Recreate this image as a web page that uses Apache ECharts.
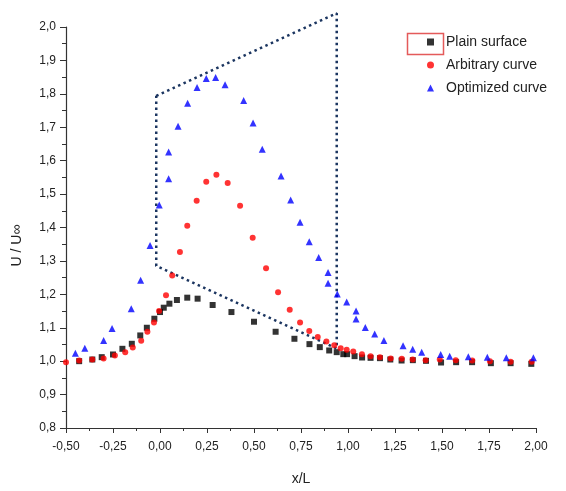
<!DOCTYPE html>
<html><head><meta charset="utf-8">
<script src="https://cdn.jsdelivr.net/npm/echarts@6/dist/echarts.min.js"></script>
<style>html,body{margin:0;padding:0;background:#fff}#c{width:566px;height:491px}</style>
</head><body><div id="c"></div>
<script>
const xTicks = [-0.5,-0.25,0,0.25,0.5,0.75,1.0,1.25,1.5,1.75,2.0];
const plainX = [-0.43,-0.36,-0.31,-0.25,-0.20,-0.15,-0.105,-0.07,-0.03,0.0,0.02,0.05,0.09,0.145,0.20,0.28,0.38,0.50,0.615,0.715,0.795,0.85,0.90,0.94,0.975,0.995,1.035,1.075,1.12,1.17,1.225,1.285,1.345,1.415,1.495,1.575,1.66,1.76,1.865,1.975];
const plainY = [1.0,1.005,1.012,1.02,1.037,1.052,1.077,1.10,1.127,1.147,1.16,1.172,1.183,1.19,1.187,1.168,1.147,1.118,1.088,1.067,1.051,1.042,1.032,1.027,1.021,1.021,1.015,1.011,1.01,1.009,1.005,1.002,1.003,1.001,0.996,0.997,0.997,0.994,0.994,0.992];
const arbX = [-0.50,-0.43,-0.36,-0.30,-0.24,-0.185,-0.145,-0.10,-0.067,-0.032,-0.005,0.032,0.065,0.106,0.145,0.195,0.246,0.30,0.36,0.426,0.493,0.564,0.628,0.69,0.745,0.794,0.839,0.885,0.927,0.961,0.993,1.028,1.074,1.12,1.17,1.227,1.286,1.344,1.413,1.488,1.573,1.661,1.755,1.865,1.977];
const arbY = [0.997,1.002,1.005,1.008,1.017,1.027,1.041,1.061,1.088,1.116,1.15,1.197,1.256,1.327,1.405,1.48,1.537,1.558,1.533,1.465,1.369,1.278,1.206,1.154,1.116,1.09,1.072,1.059,1.048,1.039,1.034,1.029,1.021,1.015,1.012,1.008,1.007,1.005,1.003,1.005,1.003,1.002,1.0,0.998,0.998];
const optX = [-0.45,-0.40,-0.30,-0.255,-0.153,-0.103,-0.053,-0.004,0.046,0.046,0.096,0.147,0.197,0.246,0.296,0.346,0.445,0.495,0.544,0.644,0.695,0.745,0.794,0.844,0.894,0.894,0.943,0.993,1.043,1.043,1.092,1.142,1.191,1.293,1.344,1.392,1.493,1.541,1.64,1.741,1.842,1.986];
const optY = [1.024,1.039,1.062,1.098,1.157,1.242,1.346,1.467,1.546,1.626,1.703,1.772,1.819,1.846,1.849,1.827,1.78,1.713,1.634,1.554,1.482,1.416,1.357,1.31,1.265,1.233,1.201,1.177,1.15,1.126,1.101,1.081,1.062,1.046,1.036,1.027,1.02,1.015,1.013,1.012,1.01,1.01];
const boxX = [-0.02,0.94,0.94,-0.02,-0.02];
const boxY = [1.794,2.041,1.038,1.285,1.794];
const seriesNames = ['Plain surface','Arbitrary curve','Optimized curve'];

const zip = (a,b)=>a.map((v,i)=>[v,b[i]]);
const font = 'Liberation Sans, Arial, sans-serif';
const chart = echarts.init(document.getElementById('c'));
chart.setOption({
  animation:false,
  backgroundColor:'#fff',
  grid:{left:66,right:30,top:27,bottom:58},
  legend:{
    data:[
      {name:seriesNames[0],icon:'rect',itemStyle:{color:'#000'}},
      {name:seriesNames[1],icon:'circle'},
      {name:seriesNames[2],icon:'triangle'}
    ],
    orient:'vertical', left:422, top:30, itemGap:9,
    itemWidth:7, itemHeight:7,
    textStyle:{fontFamily:font,fontSize:14,color:'#222',padding:[0,0,0,7]}
  },
  graphic:[{type:'rect',left:405,top:31,shape:{width:36,height:21},
    style:{fill:'none',stroke:'#e45a5a',lineWidth:1.5},z:100}],
  xAxis:{type:'value',min:-0.5,max:2.0,interval:0.25,
    name:'x/L',nameLocation:'middle',nameGap:44,
    nameTextStyle:{fontFamily:font,fontSize:14,color:'#222'},
    axisLine:{onZero:false,lineStyle:{color:'#333',width:1.2}},
    axisTick:{show:true,length:5,lineStyle:{color:'#333'}},
    minorTick:{show:true,splitNumber:2,length:3,lineStyle:{color:'#333'}},
    splitLine:{show:false},
    axisLabel:{fontFamily:font,fontSize:12,color:'#222',margin:13,
      formatter:v=>v.toFixed(2).replace('.',',')}
  },
  yAxis:{type:'value',min:0.8,max:2.0,interval:0.1,
    name:'U / U∞',nameLocation:'middle',nameGap:42,nameRotate:90,
    nameTextStyle:{fontFamily:font,fontSize:14,color:'#222',padding:[0,36,0,0]},
    axisLine:{show:true,onZero:false,lineStyle:{color:'#333',width:1.2}},
    axisTick:{show:true,length:6,lineStyle:{color:'#333'}},
    minorTick:{show:true,splitNumber:2,length:4,lineStyle:{color:'#333'}},
    splitLine:{show:false},
    axisLabel:{fontFamily:font,fontSize:12,color:'#222',margin:10,
      formatter:v=>v.toFixed(1).replace('.',',')}
  },
  series:[
    {name:'Box',type:'line',data:zip(boxX,boxY),symbol:'none',clip:false,
      lineStyle:{color:'#1b3560',width:2.5,type:[2.5,3.5],cap:'butt'},z:1},
    {name:seriesNames[0],type:'scatter',data:zip(plainX,plainY),symbol:'rect',symbolSize:6,
      itemStyle:{color:'#000'},z:3},
    {name:seriesNames[1],type:'scatter',data:zip(arbX,arbY),symbol:'circle',symbolSize:6,
      itemStyle:{color:'#ff0000'},z:4},
    {name:seriesNames[2],type:'scatter',data:zip(optX,optY),symbol:'triangle',symbolSize:7,
      itemStyle:{color:'#0000ff'},z:5}
  ]
});
</script></body></html>
